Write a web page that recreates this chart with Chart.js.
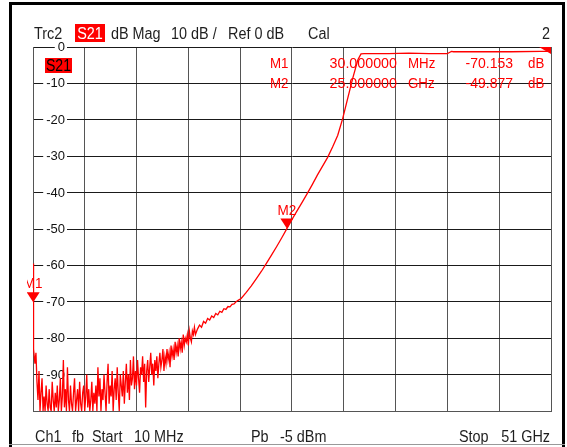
<!DOCTYPE html>
<html>
<head>
<meta charset="utf-8">
<script src="https://cdn.jsdelivr.net/npm/chart.js@4"></script>
<style>
  html, body { margin: 0; padding: 0; background: #fff; }
  canvas { display: block; }
</style>
</head>
<body>
<canvas id="vna" width="567" height="447"></canvas>
<script>
// trace S21, frequency in GHz, magnitude in dB
const startFreq = [0.01, 0.03, 0.06];
const startDb = [-59.5, -70.15, -80];

const floorFreq = [
  0.1, 0.2, 0.3, 0.4, 0.5, 0.6, 0.7, 0.8, 0.9, 1.0,
  1.1, 1.2, 1.3, 1.4, 1.5, 1.6, 1.7, 1.8, 1.9, 2.0,
  2.1, 2.2, 2.3, 2.4, 2.5, 2.6, 2.7, 2.8, 2.9, 3.0,
  3.1, 3.2, 3.3, 3.4, 3.5, 3.6, 3.7, 3.8, 3.9, 4.0,
  4.1, 4.2, 4.3, 4.4, 4.5, 4.6, 4.7, 4.8, 4.9, 5.0,
  5.1, 5.2, 5.3, 5.4, 5.5, 5.6, 5.7, 5.8, 5.9, 6.0,
  6.1, 6.2, 6.3, 6.4, 6.5, 6.6, 6.7, 6.8, 6.9, 7.0,
  7.1, 7.2, 7.3, 7.4, 7.5, 7.6, 7.7, 7.8, 7.9, 8.0,
  8.1, 8.2, 8.3, 8.4, 8.5, 8.6, 8.7, 8.8, 8.9, 9.0,
  9.1, 9.2, 9.3, 9.4, 9.5, 9.6, 9.7, 9.8, 9.9, 10.0,
  10.1, 10.2, 10.3, 10.4, 10.5, 10.6, 10.7, 10.8, 10.9, 11.0,
  11.1, 11.2, 11.3, 11.4, 11.5, 11.6, 11.7, 11.8, 11.9, 12.0,
  12.1, 12.2, 12.3, 12.4, 12.5, 12.6, 12.7, 12.8, 12.9, 13.0,
  13.1, 13.2, 13.3, 13.4, 13.5, 13.6, 13.7, 13.8, 13.9, 14.0,
  14.1, 14.2, 14.3, 14.4, 14.5, 14.6, 14.7, 14.8, 14.9, 15.0,
  15.1, 15.2, 15.3, 15.4, 15.5, 15.6, 15.7, 15.8, 15.9, 16.0
];
const floorDb = [
  -83, -87, -84, -92, -97, -89, -100, -95, -91, -100,
  -96, -100, -93, -98, -100, -94, -99, -100, -92, -97,
  -100, -95, -99, -93, -100, -97, -91, -100, -96, -86,
  -99, -94, -100, -88, -97, -100, -93, -98, -100, -95,
  -91, -100, -97, -94, -100, -92, -98, -100, -95, -93,
  -100, -96, -90, -99, -94, -100, -97, -92, -100, -95,
  -98, -93, -100, -88, -96, -91, -100, -94, -97, -90,
  -95, -100, -92, -87, -98, -93, -96, -89, -100, -94,
  -91, -97, -88, -95, -100, -90, -93, -96, -89, -98,
  -92, -87, -95, -90, -97, -86, -93, -91, -85, -94,
  -89, -93, -86, -91, -95, -88, -90, -85, -92, -87,
  -99, -89, -86, -92, -88, -84, -90, -87, -93, -86,
  -89, -85, -91, -87, -84, -88, -86, -83, -89, -85,
  -87, -83, -86, -84, -88, -82, -85, -83, -86, -81,
  -84, -82, -85, -80, -83, -81, -84, -79, -82, -80,
  -81, -79, -82, -78, -80, -81, -78, -79, -77, -79
];

// shoulder, still a little noisy
const shoulderFreq = [16.2, 16.4, 16.6, 16.8, 17.0, 17.2, 17.4, 17.6, 17.8, 18.0,
  18.2, 18.4, 18.6, 18.8, 19.0, 19.2, 19.4, 19.6, 19.8, 20.0, 20.2];
const shoulderDb = [-77.5, -76.4, -77.0, -75.4, -75.9, -74.6, -75.0, -73.9, -74.3, -73.2,
  -73.6, -72.6, -72.9, -71.9, -72.1, -71.3, -71.4, -70.7, -70.6, -70.0, -69.6];

const riseFreq = [20.5, 21, 21.5, 22, 22.5, 23, 23.5, 24, 24.5, 25,
  25.5, 26, 26.5, 27, 27.5, 28, 28.5, 29, 29.5, 30,
  30.5, 31, 31.5, 32, 32.3, 32.6];
const riseDb = [-69.1, -67.4, -65.6, -63.6, -61.6, -59.4, -57.1, -54.8, -52.4, -49.9,
  -47.4, -45.0, -42.7, -40.3, -37.8, -35.2, -32.8, -30.4, -27.5, -24.3,
  -19.6, -14.0, -8.4, -3.4, -1.9, -1.8];

const topFreq = [33, 35, 37, 39, 40.8, 41.0, 41.2, 41.4, 44, 47, 50, 51];
const topDb = [-1.8, -1.8, -1.7, -1.8, -1.8, -1.5, -1.2, -1.3, -1.3, -1.3, -1.2, -1.2];

// markers
const markerNames = ['M1', 'M2'];
const markerFreq = [0.03, 25];
const markerDb = [-70.153, -49.877];
const markerFreqText = ['30.000000', '25.000000'];
const markerUnit = ['MHz', 'GHz'];
const markerValText = ['-70.153', '-49.877'];

// grid: 10 divisions from 10 MHz to 51 GHz, 10 dB/div
const xGridGHz = [0.01, 5.109, 10.208, 15.307, 20.406, 25.505, 30.604, 35.703, 40.802, 45.901, 51];
const yTickDb = [0, -10, -20, -30, -40, -50, -60, -70, -80, -90];

function pairs(fs, ds) {
  const out = [];
  for (let i = 0; i < Math.min(fs.length, ds.length); i++) out.push({ x: fs[i], y: ds[i] });
  return out;
}
const tracePoints = [].concat(
  pairs(startFreq, startDb),
  pairs(floorFreq, floorDb),
  pairs(shoulderFreq, shoulderDb),
  pairs(riseFreq, riseDb),
  pairs(topFreq, topDb)
);

const RED = '#ff0000';
const FONT = '"Liberation Sans", Arial, sans-serif';

function drawText(ctx, s, x, y, size, color, align, sx) {
  ctx.save();
  ctx.font = size + 'px ' + FONT;
  ctx.fillStyle = color;
  ctx.textAlign = align || 'left';
  ctx.textBaseline = 'alphabetic';
  ctx.translate(x, y);
  ctx.scale(sx || 1, 1);
  ctx.fillText(s, 0, 0);
  ctx.restore();
}

const vnaDecor = {
  id: 'vnaDecor',
  beforeDraw(chart) {
    const ctx = chart.ctx;
    ctx.save();
    ctx.fillStyle = '#fff';
    ctx.fillRect(0, 0, chart.width, chart.height);
    ctx.restore();
  },
  beforeDatasetsDraw(chart) {
    // dB scale labels sit inside the grid with a white patch
    const ctx = chart.ctx, y = chart.scales.y;
    ctx.save();
    ctx.font = '13px ' + FONT;
    yTickDb.forEach(v => {
      const py = y.getPixelForValue(v);
      const s = String(v);
      const w = ctx.measureText(s).width;
      ctx.fillStyle = '#fff';
      ctx.fillRect(65 - w - 3, py - 6, w + 5, 12);
      ctx.fillStyle = '#111';
      ctx.textAlign = 'right';
      ctx.textBaseline = 'middle';
      ctx.fillText(s, 65, py + 0.5);
    });
    ctx.restore();
  },
  afterDatasetsDraw(chart) {
    const ctx = chart.ctx, xs = chart.scales.x, ys = chart.scales.y, a = chart.chartArea;

    // overflow wedge at top right
    ctx.save();
    ctx.fillStyle = RED;
    ctx.beginPath();
    ctx.moveTo(a.right - 12, a.top);
    ctx.lineTo(a.right, a.top);
    ctx.lineTo(a.right, a.top + 7);
    ctx.closePath();
    ctx.fill();
    ctx.restore();

    // marker triangles + labels
    ctx.save();
    ctx.beginPath();
    ctx.rect(27, 0, chart.width - 27, chart.height);
    ctx.clip();
    for (let i = 0; i < markerNames.length; i++) {
      const px = xs.getPixelForValue(markerFreq[i]);
      const py = ys.getPixelForValue(markerDb[i]);
      ctx.fillStyle = RED;
      ctx.beginPath();
      ctx.moveTo(px - 6.5, py - 10);
      ctx.lineTo(px + 6.5, py - 10);
      ctx.lineTo(px, py);
      ctx.closePath();
      ctx.fill();
      drawText(ctx, markerNames[i], px, py - 14, 15, RED, 'center', 0.9);
    }
    ctx.restore();

    // marker readout
    const rowY = [68, 88];
    for (let i = 0; i < markerNames.length; i++) {
      drawText(ctx, markerNames[i], 270, rowY[i], 14, RED, 'left', 0.95);
      drawText(ctx, markerFreqText[i], 397, rowY[i], 14, RED, 'right', 1.02);
      drawText(ctx, markerUnit[i], 408, rowY[i], 14, RED, 'left', 0.95);
      drawText(ctx, markerValText[i], 513, rowY[i], 14, RED, 'right', 1.0);
      drawText(ctx, 'dB', 528, rowY[i], 14, RED, 'left', 0.95);
    }

    // trace tag
    ctx.fillStyle = RED;
    ctx.fillRect(45, 58, 27, 15);
    drawText(ctx, 'S21', 58.5, 71, 16, '#000', 'center', 0.88);
  },
  afterDraw(chart) {
    const ctx = chart.ctx;
    const ink = '#1e1e1e';
    // header line
    drawText(ctx, 'Trc2', 34, 39, 16, ink, 'left', 0.9);
    ctx.fillStyle = RED;
    ctx.fillRect(75, 24, 30, 18);
    drawText(ctx, 'S21', 90, 39, 16, '#fff', 'center', 0.9);
    drawText(ctx, 'dB Mag', 111, 39, 16, ink, 'left', 0.9);
    drawText(ctx, '10 dB /', 171, 39, 16, ink, 'left', 0.9);
    drawText(ctx, 'Ref 0 dB', 228, 39, 16, ink, 'left', 0.9);
    drawText(ctx, 'Cal', 308, 39, 16, ink, 'left', 0.9);
    drawText(ctx, '2', 550, 39, 16, ink, 'right', 0.9);
    // footer line
    drawText(ctx, 'Ch1', 35, 442, 16, ink, 'left', 0.9);
    drawText(ctx, 'fb', 72, 442, 16, ink, 'left', 0.9);
    drawText(ctx, 'Start', 92, 442, 16, ink, 'left', 0.9);
    drawText(ctx, '10 MHz', 134, 442, 16, ink, 'left', 0.9);
    drawText(ctx, 'Pb', 251, 442, 16, ink, 'left', 0.9);
    drawText(ctx, '-5 dBm', 280, 442, 16, ink, 'left', 0.9);
    drawText(ctx, 'Stop', 459, 442, 16, ink, 'left', 0.9);
    drawText(ctx, '51 GHz', 550, 442, 16, ink, 'right', 0.9);
    // window frame
    ctx.save();
    ctx.fillStyle = '#000';
    ctx.fillRect(9, 2, 3, 445);
    ctx.fillRect(9, 2, 556, 3);
    ctx.fillRect(562, 2, 3, 445);
    ctx.fillStyle = '#999';
    ctx.fillRect(9, 444, 556, 1);
    ctx.restore();
  }
};

const ctx = document.getElementById('vna').getContext('2d');
const vnaChart = new Chart(ctx, {
  type: 'line',
  data: {
    datasets: [{
      label: 'S21',
      data: tracePoints,
      borderColor: RED,
      borderWidth: 1.3,
      pointRadius: 0,
      tension: 0,
      fill: false
    }]
  },
  options: {
    responsive: false,
    animation: false,
    events: [],
    layout: { padding: { left: 33, right: 16, top: 47, bottom: 36 } },
    plugins: { legend: { display: false }, tooltip: { enabled: false } },
    scales: {
      x: {
        type: 'linear',
        min: 0.01,
        max: 51,
        afterBuildTicks: s => { s.ticks = xGridGHz.map(v => ({ value: v })); },
        ticks: { display: false },
        grid: { color: '#555', drawTicks: false, lineWidth: 1 },
        border: { color: '#555' }
      },
      y: {
        min: -100,
        max: 0,
        ticks: { display: false, stepSize: 10 },
        grid: { color: '#1a1a1a', drawTicks: false, lineWidth: 1 },
        border: { color: '#555' }
      }
    }
  },
  plugins: [vnaDecor]
});
</script>
</body>
</html>
